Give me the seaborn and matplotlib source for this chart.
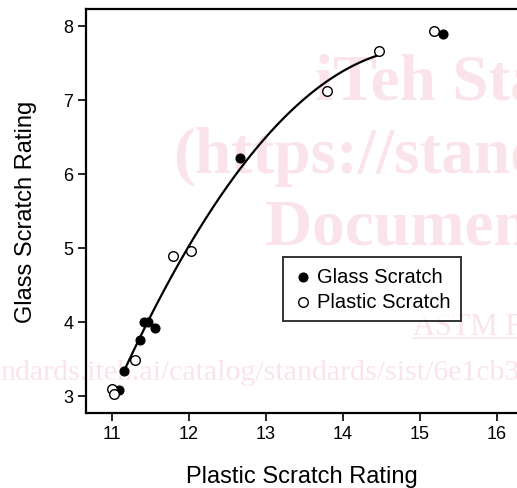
import numpy as np
import pandas as pd
import matplotlib
matplotlib.use("Agg")
import matplotlib.pyplot as plt
import seaborn as sns

# values
glass_x = [11.09, 11.16, 11.36, 11.42, 11.47, 11.56, 12.66, 15.30]
glass_y = [3.08, 3.34, 3.76, 4.00, 4.00, 3.92, 6.22, 7.89]

plastic_x = [11.00, 11.03, 11.30, 11.79, 12.03, 13.79, 14.47, 15.18]
plastic_y = [3.10, 3.02, 3.49, 4.89, 4.96, 7.12, 7.66, 7.93]

# points
curve_x = [11.14, 11.62, 11.82, 12.32, 12.83, 13.44, 13.96, 14.45]
curve_y = [3.30, 4.31, 4.74, 5.54, 6.30, 6.97, 7.35, 7.61]

x_ticks = [11, 12, 13, 14, 15, 16]
y_ticks = [3, 4, 5, 6, 7, 8]

glass = pd.DataFrame({"plastic": glass_x, "glass": glass_y})
plastic = pd.DataFrame({"plastic": plastic_x, "glass": plastic_y})
curve = pd.DataFrame({"plastic": curve_x, "glass": curve_y})

sns.set_style("ticks")
plt.rcParams["font.family"] = ["Liberation Sans", "DejaVu Sans"]
plt.rcParams["text.color"] = "black"
plt.rcParams["axes.labelcolor"] = "black"

fig = plt.figure(figsize=(5.17, 4.89), dpi=100)
ax = fig.add_axes([0.1663, 0.1534, 0.8337, 0.8262])
ax.patch.set_alpha(0)

# faint watermark behind the chart
wm = "#fae4ea"
serif = ["Liberation Serif", "DejaVu Serif"]
fig.text(315 / 517, 1 - 100 / 489, "iTeh Standards", color=wm, fontsize=47,
         fontweight="bold", family=serif, zorder=-5)
fig.text(173 / 517, 1 - 173 / 489, "(https://standards.iteh.ai)", color=wm,
         fontsize=47, fontweight="bold", family=serif, zorder=-5)
fig.text(265 / 517, 1 - 245 / 489, "Document Preview", color=wm, fontsize=47,
         fontweight="bold", family=serif, zorder=-5)
fig.text(413 / 517, 1 - 335 / 489, "ASTM F", color=wm, fontsize=22,
         family=serif, zorder=-5)
fig.text(0, 1 - 380 / 489, "ndards.iteh.ai/catalog/standards/sist/6e1cb3",
         color=wm, fontsize=21.5, family=serif, zorder=-5)
fig.add_artist(plt.Line2D([413 / 517, 1], [1 - 339 / 489, 1 - 339 / 489],
                          color=wm, linewidth=1.2, zorder=-5))

sns.regplot(data=curve, x="plastic", y="glass", order=2, scatter=False,
            ci=None, truncate=True, ax=ax,
            line_kws={"color": "black", "linewidth": 1.6, "zorder": 2})
sns.scatterplot(data=glass, x="plastic", y="glass", ax=ax, s=42,
                color="black", edgecolor="black", linewidth=0.8,
                label="Glass Scratch", zorder=3)
sns.scatterplot(data=plastic, x="plastic", y="glass", ax=ax, s=48,
                facecolor="white", edgecolor="black", linewidth=1.0,
                label="Plastic Scratch", zorder=3)

ax.set_xlim(10.66, 16.26)
ax.set_ylim(2.77, 8.23)
ax.set_xticks(x_ticks)
ax.set_yticks(y_ticks)
ax.tick_params(axis="both", direction="out", length=6, width=1.2,
               labelsize=13, pad=3, colors="black")
ax.set_xlabel("Plastic Scratch Rating", fontsize=17, labelpad=16)
ax.set_ylabel("Glass Scratch Rating", fontsize=17, labelpad=19)

for side in ["left", "bottom", "top"]:
    ax.spines[side].set_visible(True)
    ax.spines[side].set_linewidth(1.6)
    ax.spines[side].set_color("black")
ax.spines["right"].set_visible(False)

leg = ax.legend(loc="upper left", bbox_to_anchor=(0.457, 0.386),
                borderaxespad=0, fontsize=14.5, frameon=True, fancybox=False,
                handlelength=1.0, handletextpad=0.2, borderpad=0.5,
                labelspacing=0.3, edgecolor="black")
leg.get_frame().set_linewidth(1.4)
for t in leg.get_texts():
    t.set_color("black")

fig.savefig("out.png", dpi=100)
